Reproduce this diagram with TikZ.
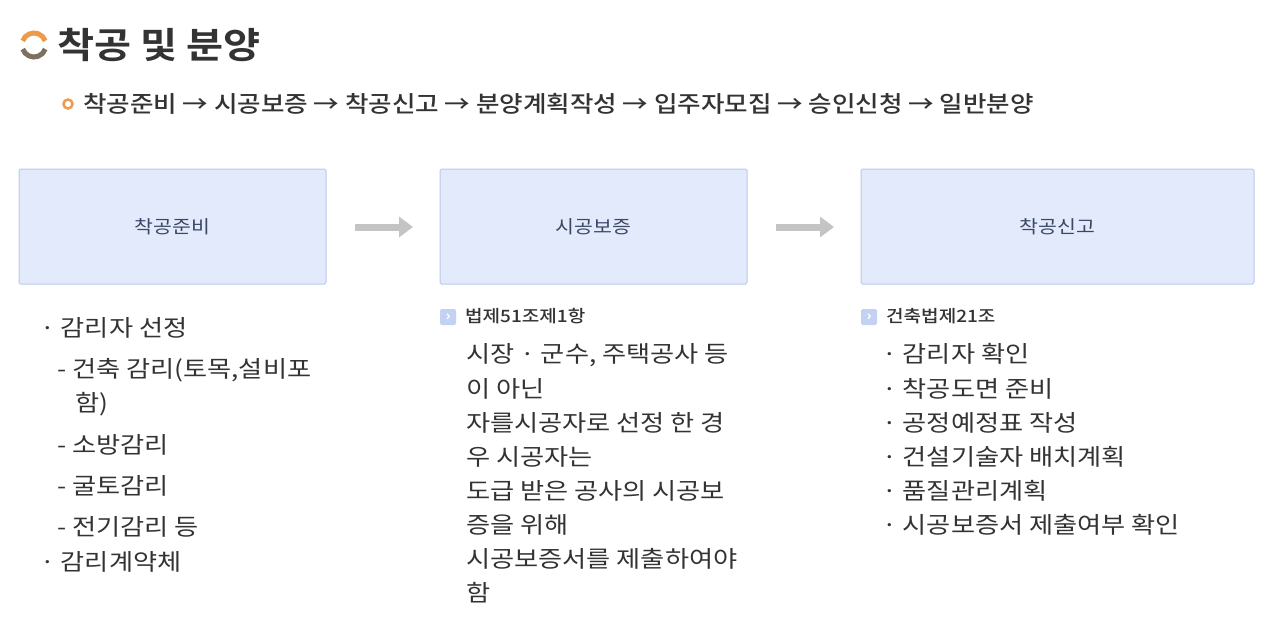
\documentclass[tikz,border=0pt]{standalone}
\usepackage{fontspec}
\setmainfont{Noto Sans CJK KR}[FakeStretch=1.14]
\newfontfamily\kb{Noto Sans CJK KR Bold}[FakeStretch=1.12]
\newfontfamily\km{Noto Sans CJK KR Medium}[FakeStretch=1.12]
\usetikzlibrary{arrows.meta}
\definecolor{boxfill}{HTML}{E3EAFB}
\definecolor{boxline}{HTML}{B9C9EA}
\definecolor{boxtxt}{HTML}{3A4866}
\definecolor{org}{HTML}{EE9A4D}
\definecolor{brn}{HTML}{7D7061}
\definecolor{txt}{HTML}{333333}
\definecolor{garr}{HTML}{C4C4C4}
\definecolor{icon}{HTML}{C3D2F2}
\tikzset{
 stepbox/.style={draw=boxline,fill=boxfill,rounded corners=1.5pt,line width=1pt,text=boxtxt,font=\fontsize{18}{20}\selectfont},
 item/.style={anchor=west,inner sep=0,text=txt,font=\fontsize{23}{25}\selectfont},
 law/.style={anchor=west,inner sep=0,text=txt,font=\km\fontsize{17}{20}\selectfont},
 garrow/.style={garr,line width=7pt,-{Triangle[length=14pt,width=20pt]}},
 iconbox/.style={fill=icon,rounded corners=2pt,minimum size=16,inner sep=0,text=white,font=\bfseries\fontsize{13}{13}\selectfont},
}
\begin{document}
\begin{tikzpicture}[x=1pt,y=-1pt]
\useasboundingbox (0,0) rectangle (1280,643);
% title
\draw[brn,line width=5pt] (34,45) ++(160:12) arc[start angle=160,end angle=20,radius=12];
\draw[org,line width=5pt] (34,45) ++(200:12) arc[start angle=200,end angle=340,radius=12];
\node[anchor=west,inner sep=0,text=txt,font=\kb\fontsize{36}{40}\selectfont] (title) at (57,45) {착공 및 분양};
\draw[org,line width=2.5pt] (68,104) circle (4.5);
\node[anchor=west,inner sep=0,text=txt,font=\km\fontsize{22.8}{26}\selectfont] (flow) at (83,104) {착공준비 → 시공보증 → 착공신고 → 분양계획작성 → 입주자모집 → 승인신청 → 일반분양};
% boxes
\node[stepbox,minimum width=307,minimum height=115] (b1) at (172.5,226.5) {착공준비};
\node[stepbox,minimum width=307,minimum height=115] (b2) at (593.5,226.5) {시공보증};
\node[stepbox,minimum width=393,minimum height=115] (b3) at (1057.5,226.5) {착공신고};
\coordinate (a1s) at (355,227); \coordinate (a1e) at (413,227);
\coordinate (a2s) at (776,227); \coordinate (a2e) at (834,227);
\draw[garrow] (a1s) -- (a1e);
\draw[garrow] (a2s) -- (a2e);
% left list
\node[item] (l0) at (40,328) {· 감리자 선정};
\node[item] (l1) at (57,370) {- 건축 감리(토목,설비포};
\node[item] (l1b) at (75,404) {함)};
\node[item] (l2) at (57,445) {- 소방감리};
\node[item] (l3) at (57,486) {- 굴토감리};
\node[item] (l4) at (57,527) {- 전기감리 등};
\node[item] (l5) at (40,562) {· 감리계약체};
% middle
\node[iconbox] (i2) at (448,317) {›};
\node[law] (m0) at (465,316) {법제51조제1항};
\foreach \t [count=\i] in {{시장 · 군수, 주택공사 등},이 아닌,자를시공자로 선정 한 경,우 시공자는,도급 받은 공사의 시공보,증을 위해,시공보증서를 제출하여야,함}
  \node[item] (m\i) at (466,321+34*\i) {\t};
% right
\node[iconbox] (i3) at (869,317) {›};
\node[law] (r0) at (886,316) {건축법제21조};
\foreach \t [count=\i] in {감리자 확인,착공도면 준비,공정예정표 작성,건설기술자 배치계획,품질관리계획,시공보증서 제출여부 확인}
  \node[item] (r\i) at (882,320+34.2*\i) {· \t};
\end{tikzpicture}
\end{document}
